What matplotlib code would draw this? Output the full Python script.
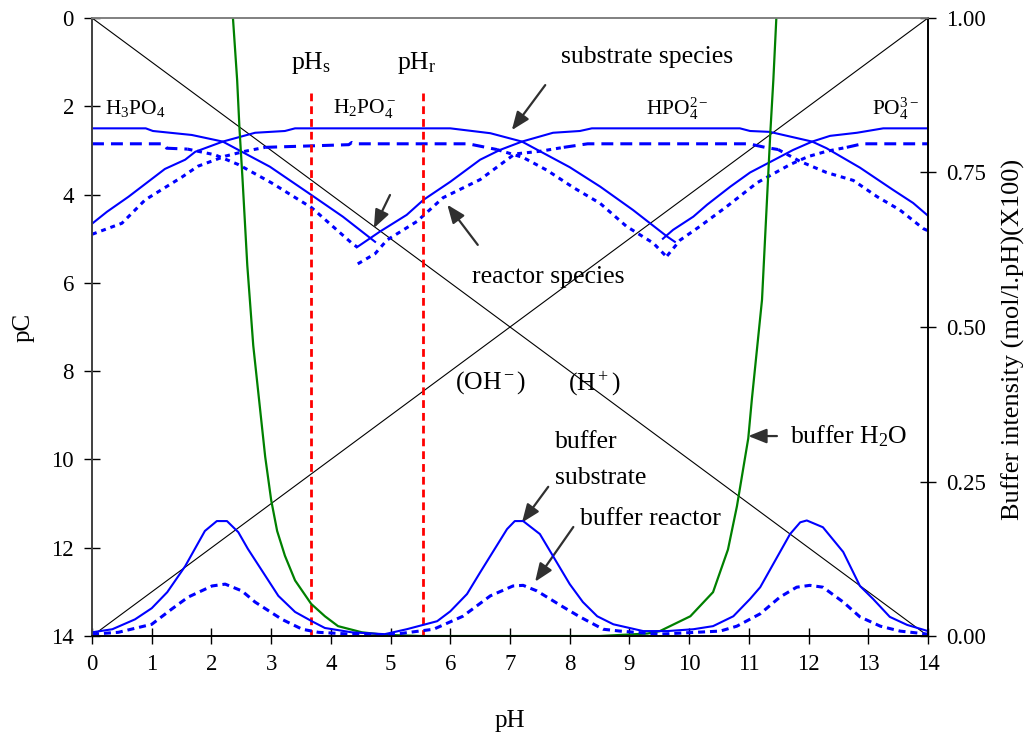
import matplotlib
matplotlib.use('Agg')
import matplotlib.pyplot as plt
import numpy as np

# serif look of the original (Times-like)
plt.rcParams['font.family'] = 'serif'
plt.rcParams['font.serif'] = ['Liberation Serif', 'DejaVu Serif']
plt.rcParams['mathtext.fontset'] = 'custom'
plt.rcParams['mathtext.rm'] = 'Liberation Serif'
plt.rcParams['mathtext.it'] = 'Liberation Serif:italic'

# ---- data ----
ph_line = [0, 1, 2, 3, 4, 5, 6, 7, 8, 9, 10, 11, 12, 13, 14]
pc_h = [0, 1, 2, 3, 4, 5, 6, 7, 8, 9, 10, 11, 12, 13, 14]
pc_oh = [14, 13, 12, 11, 10, 9, 8, 7, 6, 5, 4, 3, 2, 1, 0]

# substrate species (pC)
s_h3po4_ph = [0, 0.9, 1.02, 1.67, 2.19, 2.98, 3.62, 4.2, 4.74]
s_h3po4_pc = [2.5, 2.5, 2.56, 2.65, 2.8, 3.37, 3.96, 4.5, 5.07]
s_h2po4_ph = [0, 0.25, 0.61, 1.22, 1.56, 1.73, 2.19, 2.73, 3.23, 3.4,
              6.0, 6.67, 7.2, 8.0, 8.51, 9.06, 9.63, 9.76]
s_h2po4_pc = [4.66, 4.39, 4.05, 3.42, 3.21, 3.03, 2.8, 2.6, 2.56, 2.5,
              2.5, 2.61, 2.8, 3.38, 3.82, 4.35, 4.95, 5.07]
s_hpo4_ph = [4.45, 4.82, 5.27, 5.55, 6.0, 6.5, 6.83, 7.2, 7.72, 8.17,
             8.37, 10.85, 11.02, 11.35, 12.06, 12.3, 12.86, 13.41, 13.75, 14.0]
s_hpo4_pc = [5.18, 4.84, 4.46, 4.12, 3.71, 3.21, 2.99, 2.8, 2.6, 2.56,
             2.5, 2.5, 2.56, 2.58, 2.8, 2.95, 3.39, 3.89, 4.19, 4.48]
s_po4_ph = [9.56, 9.73, 10.07, 10.3, 10.69, 11.02, 11.36, 11.74, 12.06, 12.36, 12.81, 13.25, 14.0]
s_po4_pc = [5.0, 4.8, 4.5, 4.23, 3.82, 3.5, 3.26, 2.99, 2.8, 2.67, 2.6, 2.5, 2.5]

# reactor species (pC)
r_h3po4_ph = [0, 1.2, 1.25, 1.6, 2.06, 2.45, 3.0, 3.68, 4.35, 4.45]
r_h3po4_pc = [2.85, 2.85, 2.95, 2.97, 3.1, 3.32, 3.73, 4.3, 5.1, 5.2]
r_h2po4_ph = [0, 0.5, 0.89, 1.51, 1.77, 2.23, 2.56, 2.9, 4.3, 4.35,
              4.4, 6.3, 6.78, 7.22, 7.62, 8.06, 8.51, 8.95, 9.4, 9.63]
r_h2po4_pc = [4.9, 4.65, 4.12, 3.6, 3.36, 3.13, 3.02, 2.93, 2.87, 2.82,
              2.85, 2.85, 2.98, 3.16, 3.45, 3.84, 4.2, 4.72, 5.1, 5.42]
r_hpo4_ph = [4.45, 4.74, 4.94, 5.44, 5.88, 6.5, 7.0, 7.08, 7.5, 7.9,
             8.3, 11.0, 11.27, 11.49, 11.86, 12.3, 12.75, 13.15, 13.53, 13.92, 14.0]
r_hpo4_pc = [5.57, 5.34, 5.03, 4.61, 4.07, 3.66, 3.16, 3.08, 3.02, 2.93,
             2.85, 2.85, 2.93, 2.98, 3.25, 3.5, 3.68, 4.05, 4.35, 4.77, 4.82]
r_po4_ph = [9.63, 9.85, 10.18, 10.63, 11.14, 11.69, 11.99, 12.3, 12.64, 12.9, 14.0]
r_po4_pc = [5.39, 5.03, 4.72, 4.27, 3.73, 3.32, 3.14, 3.02, 2.93, 2.85, 2.85]

# buffer intensities (right axis)
bs_ph = [0, 0.34, 0.72, 1.0, 1.26, 1.56, 1.89, 2.09, 2.26, 2.45,
         2.61, 3.12, 3.4, 3.68, 3.9, 4.35, 4.9, 5.27, 5.78, 6.0,
         6.28, 6.5, 6.95, 7.08, 7.22, 7.5, 8.0, 8.22, 8.46, 8.73,
         9.23, 9.63, 10.07, 10.4, 10.74, 11.02, 11.19, 11.69, 11.86, 11.97,
         12.24, 12.58, 12.86, 13.08, 13.36, 13.65, 14.0]
bs_b = [0.006, 0.011, 0.027, 0.045, 0.071, 0.113, 0.17, 0.186, 0.186, 0.168,
        0.141, 0.065, 0.039, 0.024, 0.013, 0.006, 0.003, 0.011, 0.024, 0.04,
        0.068, 0.103, 0.173, 0.186, 0.186, 0.165, 0.084, 0.055, 0.032, 0.019,
        0.008, 0.008, 0.011, 0.016, 0.032, 0.06, 0.079, 0.165, 0.184, 0.187,
        0.176, 0.136, 0.081, 0.06, 0.031, 0.018, 0.008]
br_ph = [0, 0.44, 1.0, 1.34, 1.61, 2.01, 2.23, 2.51, 2.73, 3.18,
         3.52, 3.79, 4.35, 5.0, 5.72, 6.21, 6.67, 7.05, 7.22, 7.45,
         7.89, 8.17, 8.56, 8.84, 9.5, 10.52, 10.8, 11.19, 11.52, 11.8,
         12.02, 12.24, 12.58, 12.86, 13.2, 13.53, 14.0]
br_b = [0.003, 0.006, 0.019, 0.044, 0.063, 0.081, 0.084, 0.073, 0.055, 0.027,
        0.011, 0.006, 0.003, 0.002, 0.011, 0.032, 0.065, 0.081, 0.082, 0.073,
        0.047, 0.031, 0.011, 0.008, 0.003, 0.008, 0.016, 0.036, 0.063, 0.079,
        0.082, 0.079, 0.055, 0.031, 0.016, 0.008, 0.003]
w_ph = [2.36, 2.43, 2.47, 2.52, 2.6, 2.7, 2.8, 2.9, 3.0, 3.1, 3.23, 3.4, 3.67, 3.9,
        4.12, 4.52, 4.9, 5.5, 8.5, 9.3, 9.51, 10.02, 10.4, 10.65, 10.8, 10.99,
        11.05, 11.22, 11.36, 11.41, 11.46]
w_b = [1.0, 0.9, 0.82, 0.74, 0.6, 0.47, 0.38, 0.29, 0.22, 0.17, 0.13, 0.09, 0.052, 0.032,
       0.016, 0.006, 0.002, 0.0, 0.0, 0.004, 0.008, 0.032, 0.071, 0.14, 0.21, 0.32,
       0.383, 0.544, 0.816, 0.9, 1.0]

ph_s = 3.67
ph_r = 5.54

BLUE = '#0000FF'
GREEN = '#008000'
RED = '#FF0000'
ARROW = '#303030'

fig = plt.figure(figsize=(10.34, 7.4), dpi=100)
ax = fig.add_axes([0.089, 0.1405, 0.8085, 0.8352])
ax2 = ax.twinx()

# water lines
ax.plot(ph_line, pc_h, color='black', lw=0.8)
ax.plot(ph_line, pc_oh, color='black', lw=0.8)

# substrate species
for xs, ys in [(s_h3po4_ph, s_h3po4_pc), (s_h2po4_ph, s_h2po4_pc),
               (s_hpo4_ph, s_hpo4_pc), (s_po4_ph, s_po4_pc)]:
    ax.plot(xs, ys, color=BLUE, lw=1.5)


def reactor_line(xs, ys):
    # long dashes on the plateau, short dashes on the slopes (like the original)
    xs = np.array(xs)
    ys = np.array(ys)
    flat = ys <= 3.0
    seg_flat = flat[:-1] & flat[1:]
    in_flat = np.zeros(len(ys), bool)
    in_slope = np.zeros(len(ys), bool)
    in_flat[:-1] |= seg_flat
    in_flat[1:] |= seg_flat
    in_slope[:-1] |= ~seg_flat
    in_slope[1:] |= ~seg_flat
    ax.plot(xs, np.where(in_flat, ys, np.nan), color=BLUE, lw=2.2, dashes=(3.9, 2.3))
    ax.plot(xs, np.where(in_slope, ys, np.nan), color=BLUE, lw=2.2, dashes=(1.6, 1.6))


for xs, ys in [(r_h3po4_ph, r_h3po4_pc), (r_h2po4_ph, r_h2po4_pc),
               (r_hpo4_ph, r_hpo4_pc), (r_po4_ph, r_po4_pc)]:
    reactor_line(xs, ys)

# pHs / pHr markers
for x in (ph_s, ph_r):
    ax.plot([x, x], [1.7, 14], color=RED, lw=2, dashes=(2.8, 1.8))

# buffer curves on the right axis
ax2.plot(w_ph, w_b, color=GREEN, lw=1.6)
ax2.plot(bs_ph, bs_b, color=BLUE, lw=1.5)
ax2.plot(br_ph, br_b, color=BLUE, lw=2.2, dashes=(2.3, 1.6))

# axes
ax.set_xlim(0, 14)
ax.set_ylim(14, 0)
ax2.set_ylim(0, 1)
ax.set_xticks(range(0, 15))
ax.set_yticks(range(0, 15, 2))
ax2.set_yticks([0, 0.25, 0.5, 0.75, 1.0])
ax2.set_yticklabels(['0.00', '0.25', '0.50', '0.75', '1.00'])
for a in (ax, ax2):
    a.tick_params(direction='inout', length=12, width=1, labelsize=16.5, pad=7)
    a.spines['top'].set_color('#808080')
    a.spines['left'].set_color('#404040')
    a.spines['right'].set_color('black')
    a.spines['bottom'].set_color('black')
    for s in a.spines.values():
        s.set_linewidth(1.2)

ax.set_xlabel('pH', fontsize=18, labelpad=25)
ax.set_ylabel('pC', fontsize=18, labelpad=12)
ax2.set_ylabel('Buffer intensity (mol/l.pH)(X100)', fontsize=19)
ax2.yaxis.set_label_coords(1.088, 0.48)

# labels
fs = 18.5
ax.text(ph_s, 1.02, 'pH$_{\\rm s}$', fontsize=fs, ha='center', va='center')
ax.text(5.44, 1.02, 'pH$_{\\rm r}$', fontsize=fs, ha='center', va='center')
ax.text(9.30, 0.88, 'substrate species', fontsize=fs, ha='center', va='center')
ax.text(0.72, 2.05, 'H$_3$PO$_4$', fontsize=15.5, ha='center', va='center')
ax.text(4.57, 2.05, 'H$_2$PO$_4^-$', fontsize=15.5, ha='center', va='center')
ax.text(9.80, 2.05, 'HPO$_4^{2-}$', fontsize=15.5, ha='center', va='center')
ax.text(13.45, 2.05, 'PO$_4^{3-}$', fontsize=15.5, ha='center', va='center')
ax.text(7.64, 5.86, 'reactor species', fontsize=fs, ha='center', va='center')
ax.text(6.67, 8.27, '(OH$^-$)', fontsize=fs, ha='center', va='center')
ax.text(8.42, 8.27, '(H$^+$)', fontsize=fs, ha='center', va='center')
ax.text(7.75, 9.6, 'buffer', fontsize=fs, ha='left', va='center')
ax.text(7.75, 10.42, 'substrate', fontsize=fs, ha='left', va='center')
ax.text(8.17, 11.35, 'buffer reactor', fontsize=fs, ha='left', va='center')
ax.text(11.69, 9.47, 'buffer H$_2$O', fontsize=fs, ha='left', va='center')

arrows = [((7.59, 1.52), (7.03, 2.54)),
          ((6.46, 5.14), (5.95, 4.23)),
          ((4.99, 4.01), (4.72, 4.76)),
          ((7.64, 10.62), (7.20, 11.43)),
          ((8.06, 11.53), (7.42, 12.77)),
          ((11.47, 9.47), (10.99, 9.47))]
for tail, head in arrows:
    ax.annotate('', xy=head, xytext=tail,
                arrowprops=dict(arrowstyle='-|>,head_length=0.55,head_width=0.22',
                                color=ARROW, lw=1.6, mutation_scale=20,
                                shrinkA=0, shrinkB=0))

fig.savefig('out.png', dpi=100)
